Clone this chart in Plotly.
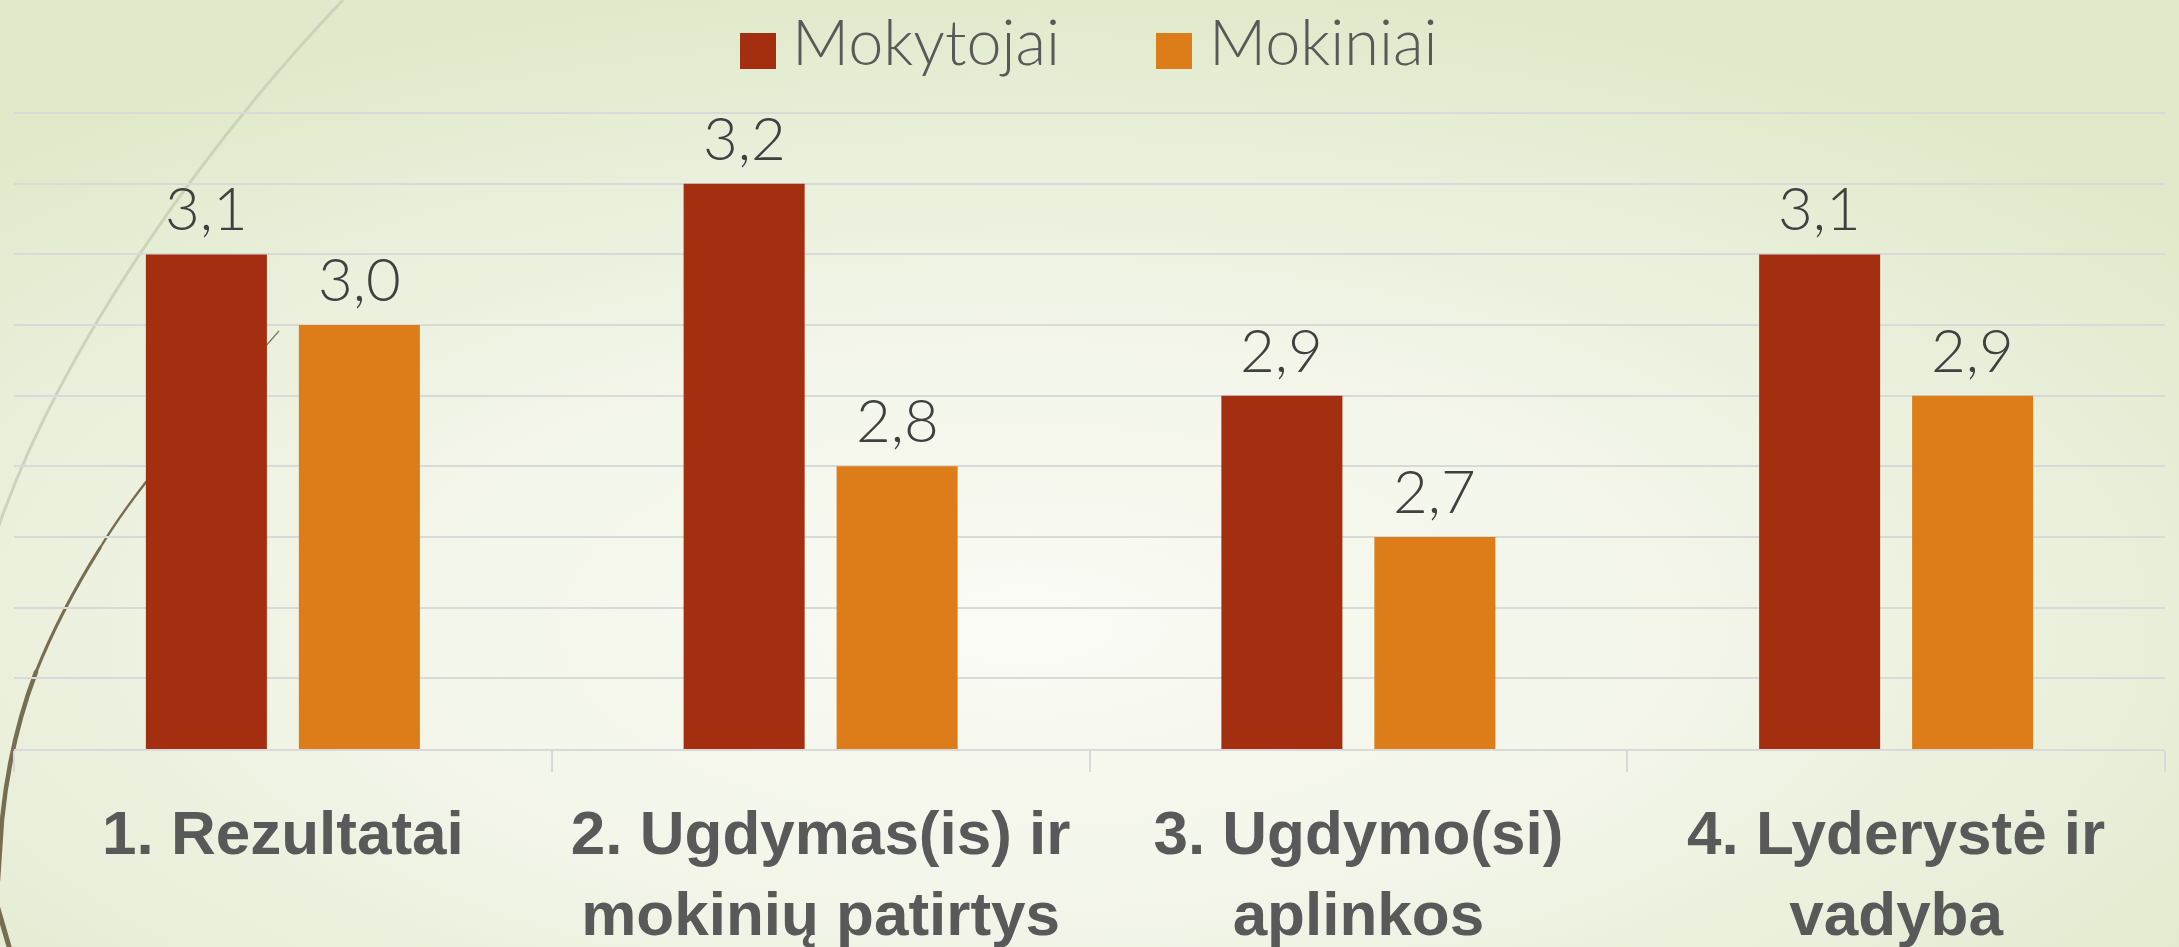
import base64
import plotly.graph_objects as go

# ---------------- data ----------------
categories = ["1. Rezultatai", "2. Ugdymas(is) ir mokinių patirtys",
              "3. Ugdymo(si) aplinkos", "4. Lyderystė ir vadyba"]
tick_labels = ["1. Rezultatai", "2. Ugdymas(is) ir<br>mokinių patirtys",
               "3. Ugdymo(si)<br>aplinkos", "4. Lyderystė ir<br>vadyba"]
series_names = ["Mokytojai", "Mokiniai"]
mokytojai = [3.1, 3.2, 2.9, 3.1]
mokiniai = [3.0, 2.8, 2.7, 2.9]
y_range = [2.4, 3.31]

# ---------------- layout geometry ----------------
W, H = 2179, 947
ML, MR, MT, MB = 14, 14, 106, 198
PW, PH = W - ML - MR, H - MT - MB
BARGAP, GROUPGAP = 0.431, 0.209


def px_x(px):
    return (px - ML) / PW


def px_y(py):
    return 1 - (py - MT) / PH


colors = ["#a32e10", "#dd7d19"]
label_font = "Lato, 'Open Sans', sans-serif"
tick_font = "'Liberation Sans', Arial, sans-serif"

# background: radial gradient + decorative wisp curves (svg)
svg = f'''<svg xmlns="http://www.w3.org/2000/svg" width="{W}" height="{H}" viewBox="0 0 {W} {H}" preserveAspectRatio="none">
<defs>
<radialGradient id="g" cx="0.47" cy="0.66" r="0.68">
<stop offset="0" stop-color="#fafbf5"/>
<stop offset="0.45" stop-color="#f2f5e8"/>
<stop offset="0.8" stop-color="#e7eed7"/>
<stop offset="1" stop-color="#e0e9c9"/>
</radialGradient>
</defs>
<rect x="0" y="0" width="{W}" height="{H}" fill="url(#g)"/>
<path d="M343,0 C200,150 60,350 -2,528" fill="none" stroke="#cdd3bb" stroke-width="3"/>
<path d="M279,331 L146,482" fill="none" stroke="#7a7153" stroke-width="1.2"/>
<path d="M146,482 Q118,518 100,548" fill="none" stroke="#776d50" stroke-width="2.4" stroke-linecap="round"/>
<path d="M100,548 Q60,612 36,672" fill="none" stroke="#776d50" stroke-width="3.2" stroke-linecap="round"/>
<path d="M36,672 Q10,740 2,820 L-2,880" fill="none" stroke="#776d50" stroke-width="4.5" stroke-linecap="round"/>
<path d="M-3,905 L10,950" fill="none" stroke="#776d50" stroke-width="5"/>
</svg>'''
bg_src = "data:image/svg+xml;base64," + base64.b64encode(svg.encode("utf-8")).decode("ascii")

fig = go.Figure()
for name, vals, col in zip(series_names, [mokytojai, mokiniai], colors):
    fig.add_trace(go.Bar(
        x=categories, y=vals, name=name,
        marker=dict(color=col, line=dict(width=0)),
        showlegend=False, cliponaxis=False,
    ))

annotations = []
shapes = []

# data labels, anchored on each bar's value (data coords), shifted to its slot in the group
cat_px = PW / len(categories)
slot_px = cat_px * (1 - BARGAP) / len(series_names)
for si, vals in enumerate([mokytojai, mokiniai]):
    off = (si - (len(series_names) - 1) / 2) * slot_px
    for c, v in zip(categories, vals):
        annotations.append(dict(
            x=c, y=v, xref="x", yref="y", xshift=off, yshift=9,
            xanchor="center", yanchor="bottom", showarrow=False,
            text=f"{v:.1f}".replace(".", ","),
            font=dict(family=label_font, size=60, color="#404040", weight=300)))

# manual legend (large squares like the reference)
legend_items = [(series_names[0], colors[0], 740, 790), (series_names[1], colors[1], 1156, 1207)]
for name, col, sq_x, tx in legend_items:
    shapes.append(dict(type="rect", xref="paper", yref="paper",
                       x0=px_x(sq_x), x1=px_x(sq_x + 36), y0=px_y(69), y1=px_y(33),
                       fillcolor=col, line=dict(width=0), layer="above"))
    annotations.append(dict(text=name, xref="paper", yref="paper",
                            x=px_x(tx), y=px_y(41), xanchor="left", yanchor="middle",
                            showarrow=False,
                            font=dict(family=label_font, size=63, color="#595959", weight=300)))

fig.update_layout(
    width=W, height=H,
    margin=dict(l=ML, r=MR, t=MT, b=MB, pad=0, autoexpand=False),
    paper_bgcolor="#eef2e2", plot_bgcolor="rgba(0,0,0,0)",
    barmode="group", bargap=BARGAP, bargroupgap=GROUPGAP,
    images=[dict(source=bg_src, xref="paper", yref="paper",
                 x=px_x(0), y=px_y(0), sizex=W / PW, sizey=H / PH,
                 xanchor="left", yanchor="top", sizing="stretch", layer="below")],
    shapes=shapes, annotations=annotations,
    xaxis=dict(tickmode="array", tickvals=categories, ticktext=tick_labels,
               automargin=False, tickangle=0,
               showline=True, linecolor="#d9d9d9", linewidth=2,
               ticks="outside", tickson="boundaries", ticklen=21,
               tickcolor="#d9d9d9", tickwidth=2, showgrid=False,
               tickfont=dict(family=tick_font, size=62, color="#595959", weight="bold"),
               ticklabelstandoff=29),
    yaxis=dict(range=y_range, tick0=y_range[0], dtick=0.1,
               automargin=False,
               showticklabels=False, showgrid=True, gridcolor="#d9d9d9", gridwidth=2,
               zeroline=False, showline=False, ticks=""),
)

fig.write_html("out.html", config={"displayModeBar": False},
               post_script="document.body.style.margin='0';")
